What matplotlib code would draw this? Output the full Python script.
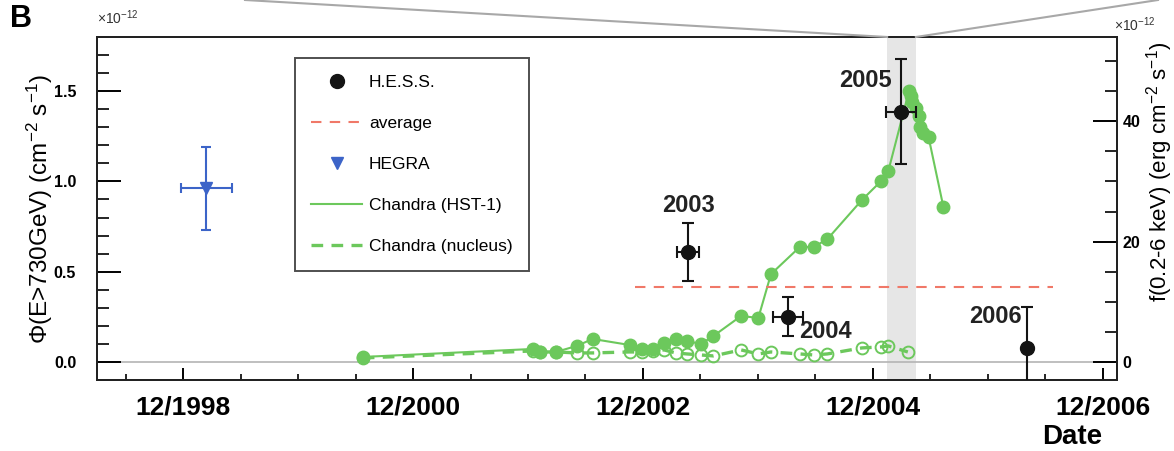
import numpy as np
import matplotlib.pyplot as plt
from matplotlib.lines import Line2D
from matplotlib.ticker import MultipleLocator

plt.rcParams['font.family'] = ['Liberation Sans', 'DejaVu Sans']
plt.rcParams['mathtext.fontset'] = 'custom'
plt.rcParams['mathtext.rm'] = 'Liberation Sans'
plt.rcParams['mathtext.it'] = 'Liberation Sans:italic'
plt.rcParams['mathtext.bf'] = 'Liberation Sans:bold'

# time axis in decimal years (12/YYYY -> YYYY + 11/12)
tick_pos = [1998.917, 2000.917, 2002.917, 2004.917, 2006.917]
tick_labels = ['12/1998', '12/2000', '12/2002', '12/2004', '12/2006']

# H.E.S.S. yearly fluxes, left axis (1e-12 cm^-2 s^-1)
hess_year = ['2003', '2004', '2005', '2006']
hess_t = [2003.31, 2004.18, 2005.16, 2006.26]
hess_flux = [0.608, 0.249, 1.387, 0.077]
hess_err_lo = [0.16, 0.105, 0.29, 0.227]
hess_err_hi = [0.16, 0.11, 0.29, 0.227]
hess_terr = [0.096, 0.13, 0.13, 0.0]

# HEGRA
hegra_t = [1999.12]
hegra_flux = [0.961]
hegra_err_lo = [0.232]
hegra_err_hi = [0.227]
hegra_terr = [0.22]

# average H.E.S.S. flux
avg_flux = 0.414
avg_span = [2002.85, 2006.48]

# Chandra HST-1, right axis (1e-12 erg cm^-2 s^-1)
hst1_t = [2000.48, 2001.96, 2002.02, 2002.16, 2002.34, 2002.48, 2002.80, 2002.91,
          2003.00, 2003.10, 2003.20, 2003.30, 2003.42, 2003.53, 2003.77, 2003.92,
          2004.03, 2004.28, 2004.40, 2004.52, 2004.82, 2004.99, 2005.05, 2005.23,
          2005.25, 2005.26, 2005.29, 2005.32, 2005.33, 2005.35, 2005.40, 2005.53]
hst1_flux = [0.83, 2.16, 1.66, 1.66, 2.66, 3.82, 2.82, 2.16,
             2.16, 3.16, 3.82, 3.49, 2.99, 4.32, 7.64, 7.31,
             14.6, 19.1, 19.1, 20.4, 26.9, 30.1, 31.7, 45.0,
             44.2, 43.2, 42.2, 40.9, 39.0, 38.0, 37.4, 25.7]

# Chandra nucleus
nuc_t = [2000.48, 2001.96, 2002.02, 2002.16, 2002.34, 2002.48, 2002.80, 2002.91,
         2003.00, 2003.10, 2003.20, 2003.30, 2003.42, 2003.53, 2003.77, 2003.92,
         2004.03, 2004.28, 2004.40, 2004.52, 2004.82, 2004.99, 2005.05, 2005.22]
nuc_flux = [0.66, 1.83, 1.66, 1.66, 1.5, 1.5, 1.66, 1.66,
            1.83, 2.0, 1.5, 1.33, 1.16, 1.0, 2.0, 1.33,
            1.66, 1.33, 1.16, 1.33, 2.33, 2.5, 2.66, 1.66]

flare_span = [2005.04, 2005.29]

green = '#6cc85c'
red = '#f07868'
blue = '#3c64c8'
black = '#141414'
nuc_dash = (0, (3.5, 2.5))

W, H = 1174, 451
fig = plt.figure(figsize=(W / 100, H / 100), dpi=100)
ax = fig.add_axes([97 / W, 1 - 380 / H, 1020 / W, 343 / H])
ax.set_xlim(1998.169, 2007.039)
ax.set_ylim(-0.1, 1.8)
ax2 = ax.twinx()
ax2.set_ylim(-3, 54)
ax.set_zorder(ax2.get_zorder() + 1)
ax.patch.set_visible(False)

# right-axis layer: flare band, zero line, Chandra
ax2.axvspan(flare_span[0], flare_span[1], color='#e6e6e6', lw=0, zorder=0)
ax2.axhline(0, color='#b4b4b4', lw=1.2, zorder=1)
ax2.plot(nuc_t, nuc_flux, ls=nuc_dash, color=green, lw=2.4, marker='o', ms=8.5,
         mfc='none', mec=green, mew=1.4, zorder=2)
ax2.plot(hst1_t, hst1_flux, '-', color=green, lw=1.5, marker='o', ms=9,
         mfc=green, mec=green, zorder=3)

# left-axis layer: gamma-ray data
ax.plot(avg_span, [avg_flux, avg_flux], color=red, ls=(0, (5, 4)), lw=1.5, zorder=2)
ax.errorbar(hegra_t, hegra_flux, yerr=[hegra_err_lo, hegra_err_hi], xerr=hegra_terr,
            fmt='v', color=blue, ms=9, elinewidth=1.5, capsize=3.5, capthick=1.5, zorder=4)
ax.errorbar(hess_t, hess_flux, yerr=[hess_err_lo, hess_err_hi], xerr=hess_terr,
            fmt='o', color=black, ms=10, elinewidth=1.5, capsize=4, capthick=1.5, zorder=5)

label_pos = {'2003': (2003.31, 0.867), '2004': (2004.50, 0.166),
             '2005': (2004.85, 1.56), '2006': (2005.98, 0.254)}
for yr in hess_year:
    lx, ly = label_pos[yr]
    ax.text(lx, ly, yr, ha='center', va='center', fontsize=17, fontweight='bold', color='#222222')

# ticks
ax.set_xticks(tick_pos)
ax.set_xticklabels(tick_labels, fontsize=19, fontweight='bold')
ax.xaxis.set_minor_locator(MultipleLocator(0.5, offset=0.417))
ax.set_yticks([0, 0.5, 1.0, 1.5])
ax.set_yticklabels(['0.0', '0.5', '1.0', '1.5'], fontsize=11.5, fontweight='bold')
ax.yaxis.set_minor_locator(MultipleLocator(0.1))
ax.tick_params(axis='x', which='major', direction='in', length=8.6, width=1.4, pad=11, top=False)
ax.tick_params(axis='x', which='minor', direction='in', length=4.3, width=1.2, top=False)
ax.tick_params(axis='y', which='major', direction='in', length=17, width=1.4, pad=15, right=False)
ax.tick_params(axis='y', which='minor', direction='in', length=8.6, width=1.2, right=False)

ax2.set_yticks([0, 20, 40])
ax2.set_yticklabels(['0', '20', '40'], fontsize=11.5, fontweight='bold')
ax2.yaxis.set_minor_locator(MultipleLocator(5))
ax2.tick_params(axis='y', which='major', direction='in', length=17, width=1.4, pad=4)
ax2.tick_params(axis='y', which='minor', direction='in', length=8.6, width=1.2)

for a in (ax, ax2):
    for s in a.spines.values():
        s.set_linewidth(1.4)
        s.set_color('#222222')

# legend
handles = [Line2D([], [], ls='none', marker='o', color=black, ms=10),
           Line2D([], [], color=red, ls=(0, (5, 4)), lw=1.5),
           Line2D([], [], ls='none', marker='v', color=blue, ms=9),
           Line2D([], [], color=green, lw=1.5),
           Line2D([], [], color=green, lw=2.4, ls=nuc_dash)]
labels = ['H.E.S.S.', 'average', 'HEGRA', 'Chandra (HST-1)', 'Chandra (nucleus)']
leg = ax.legend(handles, labels, loc='upper left', bbox_to_anchor=(295 / W, 1 - 58 / H),
                bbox_transform=fig.transFigure, fontsize=12.5, frameon=True, fancybox=False,
                edgecolor='#222222', borderpad=0.95, labelspacing=1.5, handlelength=2.9,
                handletextpad=0.4, borderaxespad=0)
leg.get_frame().set_linewidth(1.4)

# axis titles and panel text
fig.text(40 / W, 1 - 209 / H, r'$\Phi$(E>730GeV) (cm$^{-2}$ s$^{-1}$)', rotation=90,
         ha='center', va='center', fontsize=17.5)
fig.text(1160 / W, 1 - 172 / H, 'f(0.2-6 keV) (erg cm$^{-2}$ s$^{-1}$)', rotation=90,
         ha='center', va='center', fontsize=16)
fig.text(97 / W, 1 - 18 / H, '×10$^{-12}$', fontsize=10, va='center', color='#333333')
fig.text(1114 / W, 1 - 25 / H, '×10$^{-12}$', fontsize=10, va='center', color='#333333')
fig.text(10 / W, 1 - 19 / H, 'B', fontsize=22, fontweight='bold', va='center')
fig.text(1072 / W, 1 - 437 / H, 'Date', fontsize=20, fontweight='bold', ha='center', va='center')

# zoom lines from the flare band up to the panel above
x0 = ax.transData.transform((flare_span[0], 0))[0] / W
x1 = ax.transData.transform((flare_span[1], 0))[0] / W
top = 1 - 37 / H
fig.add_artist(Line2D([245 / W, x0], [1, top], transform=fig.transFigure, color='#a8a8a8', lw=1.5))
fig.add_artist(Line2D([x1, 1158 / W], [top, 1], transform=fig.transFigure, color='#a8a8a8', lw=1.5))

fig.savefig('out.png', dpi=100)
